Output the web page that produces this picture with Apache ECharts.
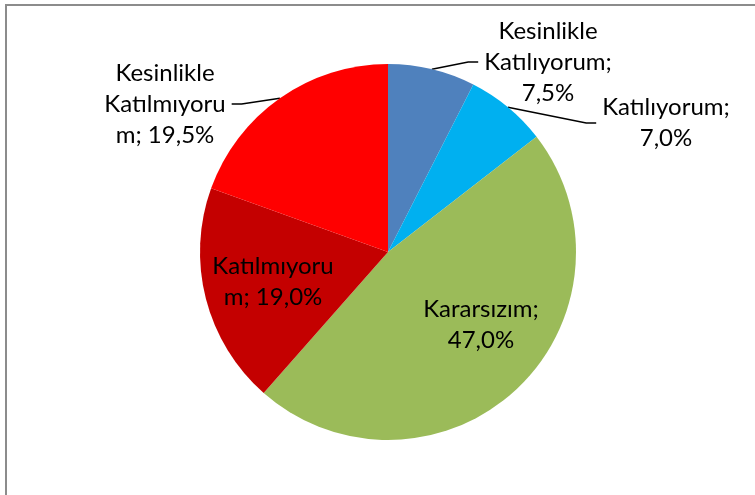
<!DOCTYPE html>
<html>
<head>
<meta charset="utf-8">
<script src="https://cdn.jsdelivr.net/npm/echarts@6/dist/echarts.min.js"></script>
<style>
  html, body { margin: 0; padding: 0; background: #fff; }
  #chart { width: 755px; height: 495px; }
</style>
</head>
<body>
<div id="chart"></div>
<script>
const categories = ['Kesinlikle Katılıyorum', 'Katılıyorum', 'Kararsızım', 'Katılmıyorum', 'Kesinlikle Katılmıyorum']
const values = [7.5, 7.0, 47.0, 19.0, 19.5]
// label text as wrapped in the picture
const wrappedNames = ['Kesinlikle\nKatılıyorum', 'Katılıyorum', 'Kararsızım', 'Katılmıyoru\nm', 'Kesinlikle\nKatılmıyoru\nm']
const valueBreaks = ['\n', '\n', '\n', ' ', ' ']
const colors = ['#4F81BD', '#00B0F0', '#9BBB59', '#C40000', '#FF0000']

// label centers (px)
const labelPos = [[548, 62], [666, 123], [481, 325], [273, 282], [165, 104]]

const chart = echarts.init(document.getElementById('chart'))

chart.setOption({
  animation: false,
  graphic: [{
    type: 'rect',
    shape: { x: 6, y: 5, width: 900, height: 700 },
    style: { fill: 'none', stroke: '#8c8c8c', lineWidth: 2 },
    silent: true,
  }],
  series: [{
    type: 'pie',
    center: [388, 252],
    radius: 188,
    startAngle: 90,
    clockwise: true,
    itemStyle: { borderWidth: 0 },
    label: {
      fontFamily: 'Lato',
      fontSize: 24,
      lineHeight: 31,
      color: '#000',
      align: 'center',
      padding: [0, 6],
      formatter: (p) => wrappedNames[p.dataIndex] + ';' + valueBreaks[p.dataIndex] +
        p.value.toFixed(1).replace('.', ',') + '%',
    },
    labelLine: {
      show: true,
      length: 10,
      length2: 10,
      lineStyle: { color: '#000', width: 1.5 },
    },
    labelLayout: (params) => {
      const p = labelPos[params.dataIndex]
      return { x: p[0], y: p[1], align: 'center', verticalAlign: 'middle' }
    },
    data: categories.map((name, i) => {
      const inside = i === 2 || i === 3
      return {
        name,
        value: values[i],
        itemStyle: { color: colors[i] },
        label: { position: inside ? 'inside' : 'outside' },
        labelLine: { show: !inside },
      }
    }),
  }],
})
</script>
</body>
</html>
